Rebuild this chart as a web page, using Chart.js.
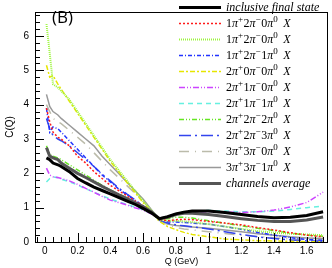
<!DOCTYPE html>
<html><head><meta charset="utf-8">
<script src="https://cdn.jsdelivr.net/npm/chart.js@4/dist/chart.umd.min.js"></script>
<style>html,body{margin:0;padding:0;background:#fff;}canvas{display:block;}</style>
</head><body>
<canvas id="c" width="332" height="268"></canvas>
<script>
const Q = [0.01,0.03,0.05,0.08,0.1,0.15,0.2,0.25,0.3,0.35,0.4,0.45,0.5,0.55,0.6,0.65,0.7,0.75,0.8,0.85,0.9,1.0,1.1,1.2,1.3,1.4,1.5,1.6,1.7];
const inclusive = [2.45,2.4,2.3,2.25,2.2,2.05,1.85,1.72,1.6,1.5,1.4,1.3,1.2,1.1,0.98,0.85,0.68,0.74,0.82,0.87,0.9,0.9,0.86,0.8,0.74,0.71,0.72,0.77,0.88];
const ch120_red = [3.9,3.5,3.2,3.05,3.0,2.8,2.5,2.3,2.05,1.85,1.65,1.5,1.35,1.2,1.05,0.88,0.66,0.62,0.65,0.66,0.65,0.6,0.55,0.5,0.42,0.35,0.27,0.2,0.15];
const ch120_green = [6.35,5.5,4.6,4.5,4.4,4.15,3.8,3.45,3.1,2.75,2.4,2.1,1.8,1.5,1.2,0.92,0.64,0.62,0.62,0.6,0.58,0.52,0.45,0.38,0.32,0.27,0.24,0.22,0.2];
const ch121 = [3.9,3.2,3.35,3.3,3.2,2.95,2.7,2.45,2.2,1.95,1.75,1.55,1.38,1.22,1.05,0.87,0.64,0.58,0.58,0.57,0.55,0.52,0.45,0.37,0.28,0.2,0.13,0.07,0.05];
const ch200 = [5.15,4.8,4.85,4.6,4.45,4.1,3.75,3.4,3.05,2.7,2.35,2.05,1.75,1.45,1.15,0.88,0.6,0.45,0.36,0.28,0.22,0.15,0.09,0.06,0.04,0.03,0.02,0.01,0.01];
const ch210 = [2.15,1.95,1.9,1.88,1.85,1.78,1.68,1.56,1.45,1.33,1.22,1.15,1.08,1.0,0.93,0.82,0.68,0.72,0.8,0.86,0.88,0.88,0.87,0.86,0.88,0.93,1.02,1.15,1.45];
const ch211 = [1.75,1.85,1.9,1.87,1.83,1.75,1.66,1.55,1.45,1.35,1.25,1.17,1.1,1.02,0.94,0.83,0.68,0.74,0.82,0.88,0.9,0.92,0.9,0.88,0.88,0.9,0.95,1.0,1.05];
const ch222 = [2.8,2.55,2.5,2.45,2.4,2.25,2.1,1.95,1.8,1.65,1.52,1.4,1.28,1.15,1.02,0.85,0.66,0.68,0.72,0.72,0.7,0.62,0.55,0.47,0.4,0.33,0.26,0.2,0.17];
const ch223 = [3.6,3.3,3.1,3.0,2.95,2.8,2.6,2.4,2.2,1.98,1.78,1.58,1.4,1.23,1.05,0.86,0.63,0.55,0.5,0.47,0.44,0.38,0.3,0.22,0.15,0.1,0.06,0.03,0.02];
const ch330 = [4.0,3.8,3.6,3.5,3.45,3.25,3.05,2.85,2.6,2.35,2.1,1.88,1.65,1.42,1.2,0.93,0.64,0.5,0.42,0.38,0.35,0.3,0.25,0.2,0.16,0.12,0.09,0.07,0.05];
const ch331 = [4.3,3.95,3.8,3.7,3.6,3.4,3.2,3.0,2.8,2.5,2.25,2.0,1.75,1.5,1.25,0.95,0.65,0.52,0.48,0.46,0.44,0.4,0.35,0.3,0.24,0.2,0.15,0.12,0.1];
const chAvg = [2.75,2.5,2.45,2.4,2.3,2.15,2.0,1.88,1.75,1.62,1.5,1.38,1.27,1.15,1.03,0.88,0.68,0.72,0.8,0.84,0.84,0.8,0.74,0.68,0.63,0.6,0.6,0.64,0.73];

const seriesLabels = ['inclusive final state','1π⁺2π⁻0π⁰ X','1π⁺2π⁻0π⁰ X','1π⁺2π⁻1π⁰ X','2π⁺0π⁻0π⁰ X','2π⁺1π⁻0π⁰ X','2π⁺1π⁻1π⁰ X','2π⁺2π⁻2π⁰ X','2π⁺2π⁻3π⁰ X','3π⁺3π⁻0π⁰ X','3π⁺3π⁻1π⁰ X','channels average'];
const xTicks = [0,0.2,0.4,0.6,0.8,1.0,1.2,1.4,1.6];
const yTicks = [0,1,2,3,4,5,6];

const styles = [
  {c:'#000000', w:3, d:[]},
  {c:'#ff1a1a', w:1.5, d:[2,2]},
  {c:'#9cf53c', w:2, d:[1,1]},
  {c:'#2233ff', w:1.5, d:[4,2,1,2]},
  {c:'#e6e600', w:1.5, d:[5,2,2,2]},
  {c:'#cc44ff', w:1.5, d:[6,2,1,2,1,2]},
  {c:'#66f0e0', w:1.5, d:[5,4]},
  {c:'#66e622', w:1.5, d:[5,2,1,2,1,2]},
  {c:'#3344ee', w:1.5, d:[12,4,2,4]},
  {c:'#bbbbaa', w:1.5, d:[10,6,1,6]},
  {c:'#999999', w:1.5, d:[]},
  {c:'#555555', w:3, d:[]}
];
const values = [inclusive,ch120_red,ch120_green,ch121,ch200,ch210,ch211,ch222,ch223,ch330,ch331,chAvg];

const datasets = values.map((arr,i)=>({
  label: seriesLabels[i],
  data: Q.map((q,j)=>({x:q,y:arr[j]})),
  borderColor: styles[i].c,
  borderWidth: styles[i].w,
  borderDash: styles[i].d,
  pointRadius: 0,
  tension: 0,
  fill: false,
  order: i === 0 ? -1 : (i === 11 ? 0 : i)
}));

const supMap = {'⁺':'+','⁻':'−','⁰':'0'};
function drawLabel(ctx, text, x, y) {
  const base = 12, fam = '"Liberation Serif", "DejaVu Serif", serif';
  ctx.textBaseline = 'alphabetic';
  ctx.textAlign = 'left';
  ctx.fillStyle = '#000';
  if (!/π/.test(text)) {
    ctx.font = 'italic ' + base + 'px ' + fam;
    ctx.fillText(text, x, y);
    return;
  }
  let cx = x;
  for (const ch of text) {
    if (supMap[ch]) {
      ctx.font = '9px ' + fam;
      ctx.fillText(supMap[ch], cx, y - 5);
      cx += ctx.measureText(supMap[ch]).width + 0.5;
    } else if (ch === ' ') {
      cx += 5;
    } else {
      ctx.font = ((ch === 'π' || ch === 'X') ? 'italic ' : '') + base + 'px ' + fam;
      ctx.fillText(ch, cx, y);
      cx += ctx.measureText(ch).width;
    }
  }
}

const framePlugin = {
  id: 'frame',
  afterDraw(chart) {
    const ctx = chart.ctx, a = chart.chartArea, xs = chart.scales.x, ys = chart.scales.y;
    ctx.save();
    ctx.strokeStyle = '#000'; ctx.lineWidth = 1; ctx.setLineDash([]);
    ctx.strokeRect(Math.round(a.left)+0.5, Math.round(a.top)+0.5, Math.round(a.right-a.left)-1, Math.round(a.bottom-a.top));
    ctx.beginPath();
    for (let k = -1; k <= 34; k++) {
      const v = k*0.05;
      if (v < xs.min || v > xs.max) continue;
      const px = Math.round(xs.getPixelForValue(v)) + 0.5;
      const isMajor = Math.abs(((k % 8) + 8) % 8 - 4) < 0.01;
      const len = isMajor ? 9 : 5;
      ctx.moveTo(px, a.bottom); ctx.lineTo(px, a.bottom - len);
    }
    for (let k = 0; k <= 33; k++) {
      const v = k*0.2;
      if (v > ys.max) continue;
      const py = Math.round(ys.getPixelForValue(v)) + 0.5;
      const len = (k % 5 === 0) ? 9 : 5;
      ctx.moveTo(a.left, py); ctx.lineTo(a.left + len, py);
    }
    ctx.stroke();
    ctx.fillStyle = '#000';
    ctx.font = '17px "Open Sans", "Noto Sans", sans-serif';
    ctx.textBaseline = 'middle'; ctx.textAlign = 'left';
    ctx.fillText('(B)', 52, 18);
    chart.data.datasets.forEach((ds,i) => {
      const y = 7 + i*16;
      ctx.strokeStyle = ds.borderColor;
      ctx.lineWidth = ds.borderWidth;
      ctx.setLineDash(ds.borderDash || []);
      ctx.beginPath(); ctx.moveTo(179, y + 0.5); ctx.lineTo(221, y + 0.5); ctx.stroke();
      ctx.setLineDash([]);
      drawLabel(ctx, ds.label, 226, y + 4);
    });
    ctx.restore();
  }
};

new Chart(document.getElementById('c'), {
  type: 'line',
  data: { datasets },
  options: {
    responsive: false,
    animation: false,
    layout: { padding: { top: 2, right: 4, left: 0, bottom: 0 } },
    plugins: { legend: { display: false }, tooltip: { enabled: false } },
    scales: {
      x: {
        type: 'linear', min: -0.06, max: 1.73,
        grid: { display: false, drawTicks: false },
        border: { display: false },
        afterBuildTicks: (ax) => { ax.ticks = xTicks.map(v => ({ value: v })); },
        afterFit: (ax) => { ax.height = 26; },
        ticks: {
          autoSkip: false, maxRotation: 0, padding: 3, color: '#000',
          font: { family: '"Liberation Sans", Arial, sans-serif', size: 10 },
          callback: (v) => String(+(+v).toFixed(1))
        },
        title: { display: true, text: 'Q (GeV)', color: '#000', padding: { top: 0, bottom: 1 },
          font: { family: '"Liberation Sans", Arial, sans-serif', size: 9 } }
      },
      y: {
        type: 'linear', min: 0, max: 6.7,
        grid: { display: false, drawTicks: false },
        border: { display: false },
        afterBuildTicks: (ax) => { ax.ticks = yTicks.map(v => ({ value: v })); },
        afterFit: (ax) => { ax.width = 35; },
        ticks: {
          autoSkip: false, padding: 6, color: '#000',
          font: { family: '"Liberation Sans", Arial, sans-serif', size: 10 },
          callback: (v) => String(v)
        },
        title: { display: true, text: 'C(Q)', color: '#000', padding: { top: 4, bottom: 0 },
          font: { family: '"Liberation Sans", Arial, sans-serif', size: 10 } }
      }
    }
  },
  plugins: [framePlugin]
});
</script>
</body></html>
